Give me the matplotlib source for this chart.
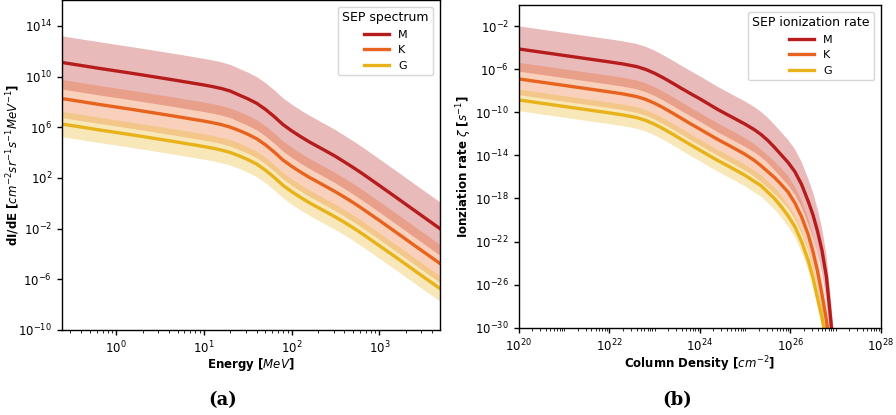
import numpy as np
import matplotlib
matplotlib.use("Agg")
import matplotlib.pyplot as plt
from matplotlib.ticker import LogLocator, NullLocator, NullFormatter

# ---------------- data (log10 values) ----------------
spec_logE = [-0.62, -0.4, -0.2, 0.0, 0.2, 0.4, 0.6, 0.8, 1.0, 1.1, 1.2, 1.3, 1.4, 1.5,
             1.6, 1.7, 1.8, 1.9, 2.0, 2.1, 2.2, 2.3, 2.4, 2.5, 2.6, 2.7, 2.8, 3.0, 3.2,
             3.4, 3.69]
spec_M = [11.12, 10.88, 10.66, 10.45, 10.24, 10.02, 9.80, 9.57, 9.34, 9.21, 9.06, 8.86,
          8.55, 8.25, 7.90, 7.42, 6.85, 6.22, 5.72, 5.27, 4.85, 4.47, 4.09, 3.70, 3.27,
          2.83, 2.37, 1.40, 0.42, -0.57, -2.00]
spec_K = [8.27, 8.03, 7.81, 7.60, 7.39, 7.17, 6.95, 6.72, 6.49, 6.36, 6.21, 6.01,
          5.75, 5.45, 5.10, 4.62, 4.05, 3.42, 2.92, 2.47, 2.05, 1.67, 1.29, 0.90, 0.49,
          0.06, -0.40, -1.36, -2.34, -3.33, -4.75]
spec_G = [6.26, 6.02, 5.80, 5.59, 5.38, 5.16, 4.94, 4.71, 4.48, 4.35, 4.20, 4.01,
          3.75, 3.45, 3.10, 2.62, 2.05, 1.42, 0.92, 0.47, 0.05, -0.33, -0.71, -1.09,
          -1.50, -1.93, -2.39, -3.35, -4.32, -5.31, -6.73]
spec_width = {"M": 2.1, "K": 1.5, "G": 1.0}

ion_logN = [20.0, 20.5, 21.0, 21.5, 22.0, 22.3, 22.6, 22.8, 23.0, 23.2, 23.4, 23.6,
            23.8, 24.0, 24.2, 24.4, 24.6, 24.8, 25.0, 25.2, 25.35, 25.5, 25.65, 25.8,
            25.95, 26.1, 26.25, 26.4, 26.5, 26.6, 26.7, 26.8, 26.9, 27.0, 27.1]
ion_M = [-4.13, -4.43, -4.73, -5.03, -5.33, -5.52, -5.76, -6.02, -6.38, -6.82, -7.30,
         -7.80, -8.28, -8.75, -9.25, -9.75, -10.20, -10.65, -11.10, -11.60, -12.05,
         -12.60, -13.25, -13.95, -14.65, -15.50, -16.70, -18.30, -19.50, -21.00,
         -22.80, -25.30, -29.50, -34.50, -40.00]
ion_K = [-6.91, -7.21, -7.51, -7.81, -8.11, -8.30, -8.54, -8.80, -9.16, -9.60, -10.08,
         -10.58, -11.08, -11.56, -12.05, -12.53, -12.98, -13.43, -13.90, -14.45, -14.95,
         -15.50, -16.05, -16.70, -17.40, -18.40, -19.70, -21.40, -22.90, -24.70,
         -26.90, -29.30, -33.00, -38.00, -44.00]
ion_G = [-8.86, -9.16, -9.46, -9.76, -10.06, -10.25, -10.49, -10.75, -11.11, -11.55,
         -12.03, -12.53, -13.03, -13.51, -14.00, -14.48, -14.93, -15.38, -15.85, -16.40,
         -16.80, -17.40, -18.00, -18.75, -19.60, -20.60, -22.00, -23.80, -25.30, -27.20,
         -29.00, -31.50, -35.50, -40.00, -45.00]
ion_width = {"M": 2.1, "K": 1.5, "G": 1.0}

labels = ["M", "K", "G"]
colors = {"M": "#b71c1c", "K": "#e8641e", "G": "#e8b21a"}

# ---------------- figure ----------------
fig = plt.figure(figsize=(8.96, 4.15), dpi=100)
ax1 = fig.add_axes([0.069, 0.205, 0.422, 0.795])
ax2 = fig.add_axes([0.579, 0.210, 0.404, 0.778])

def draw(ax, lx, series, widths):
    x = 10 ** np.asarray(lx)
    for lab in labels:
        y = np.asarray(series[lab])
        w = widths[lab]
        ax.fill_between(x, 10 ** (y - w), 10 ** (y + w), color=colors[lab],
                        alpha=0.3, linewidth=0)
    for lab in labels:
        y = np.asarray(series[lab])
        ax.plot(x, 10 ** y, color=colors[lab], lw=2.4, label=lab)

draw(ax1, spec_logE, {"M": spec_M, "K": spec_K, "G": spec_G}, spec_width)
draw(ax2, ion_logN, {"M": ion_M, "K": ion_K, "G": ion_G}, ion_width)

for ax in (ax1, ax2):
    ax.set_xscale("log")
    ax.set_yscale("log")
    ax.tick_params(labelsize=8.5, width=1.0)
    for s in ax.spines.values():
        s.set_linewidth(1.0)

ax1.set_xlim(10 ** -0.62, 10 ** 3.69)
ax1.set_ylim(1e-10, 10 ** 16.05)
ax1.set_yticks([10.0 ** p for p in range(-10, 15, 4)])
ax1.yaxis.set_minor_locator(NullLocator())
ax1.set_xlabel("Energy [$MeV$]", fontsize=8.5, fontweight="bold", labelpad=0)
ax1.set_ylabel("dI/dE [$cm^{-2}sr^{-1}s^{-1}MeV^{-1}$]", fontsize=8.5, fontweight="bold")
ax1.yaxis.set_label_coords(-0.105, 0.5)
ax1.legend(title="SEP spectrum", loc="upper right", fontsize=8,
           title_fontsize=9, handlelength=2.3, borderaxespad=0.6)

ax2.set_xlim(1e20, 1e28)
ax2.set_ylim(1e-30, 10 ** -0.05)
ax2.set_xticks([10.0 ** p for p in range(20, 29, 2)])
ax2.xaxis.set_minor_locator(LogLocator(base=10, subs=np.arange(1, 10), numticks=100))
ax2.xaxis.set_minor_formatter(NullFormatter())
ax2.set_yticks([10.0 ** p for p in range(-30, -1, 4)])
ax2.yaxis.set_minor_locator(NullLocator())
ax2.set_xlabel("Column Density [$cm^{-2}$]", fontsize=8.5, fontweight="bold", labelpad=0)
ax2.set_ylabel(r"Ionziation rate $\zeta$ [$s^{-1}$]", fontsize=8.5, fontweight="bold")
ax2.yaxis.set_label_coords(-0.125, 0.5)
ax2.legend(title="SEP ionization rate", loc="upper right", fontsize=8,
           title_fontsize=9, handlelength=2.3, borderaxespad=0.6)

fig.text(0.248, 0.036, "(a)", fontsize=13, fontweight="bold", family="DejaVu Serif",
         ha="center", va="center")
fig.text(0.756, 0.036, "(b)", fontsize=13, fontweight="bold", family="DejaVu Serif",
         ha="center", va="center")

fig.savefig("out.png", dpi=100)
